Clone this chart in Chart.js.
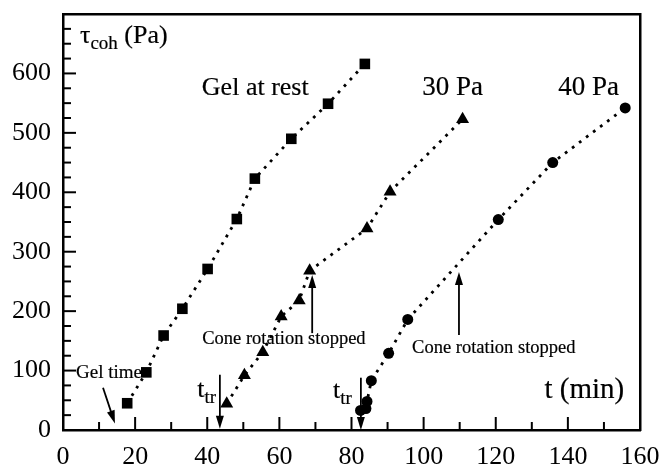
<!DOCTYPE html>
<html>
<head>
<meta charset="utf-8">
<script src="https://cdn.jsdelivr.net/npm/chart.js@4"></script>
<style>
  html, body { margin: 0; padding: 0; background: #fff; }
  #wrap { width: 662px; height: 464px; }
</style>
</head>
<body>
<div id="wrap"><canvas id="chart" width="662" height="464"></canvas></div>
<script>
/* ── Cohesive stress vs time, three gels ── */

// Gel at rest (squares)
const restTime = [17.8, 23.1, 27.9, 33.1, 40.1, 48.2, 53.2, 63.3, 73.5, 83.7];
const restTau  = [45, 97, 159, 204, 271, 355, 423, 490, 549, 616];

// 30 Pa (triangles)
const pa30Time = [45.4, 50.3, 55.4, 60.5, 65.5, 68.4, 84.3, 90.7, 110.8];
const pa30Tau  = [44, 92, 131, 191, 218, 268, 339, 401, 523];

// 40 Pa (circles)
const pa40Time = [82.5, 84.0, 84.3, 85.5, 90.3, 95.6, 120.7, 135.8, 155.9];
const pa40Tau  = [33, 36, 48, 83, 129, 186, 354, 450, 542];

// axis ticks
const xTicks = [0, 20, 40, 60, 80, 100, 120, 140, 160];
const yTicks = [0, 100, 200, 300, 400, 500, 600];

const SERIF = '"Liberation Serif", "DejaVu Serif", serif';

function toPoints(xs, ys) {
  return xs.map((x, i) => ({ x: x, y: ys[i] }));
}

function seriesStyle(shape, radius) {
  return {
    showLine: true,
    borderColor: '#000', borderWidth: 2.8,
    borderDash: [2.8, 6], borderCapStyle: 'butt',
    backgroundColor: '#000',
    pointStyle: shape, pointRadius: radius, pointHoverRadius: radius,
    pointBorderWidth: 0
  };
}

// text labels placed in data units
const labels = [
  { x: 38.5,  y: 564, text: 'Gel at rest', size: 26 },
  { x: 99.6,  y: 564, text: '30 Pa', size: 27 },
  { x: 137.3, y: 564, text: '40 Pa', size: 27 },
  { x: 133.5, y: 54,  text: 't (min)', size: 29 },
  { x: 38.6,  y: 145, text: 'Cone rotation stopped', size: 18.5 },
  { x: 96.8,  y: 130, text: 'Cone rotation stopped', size: 18.5 },
  { x: 3.6,   y: 88,  text: 'Gel time', size: 19 }
];

// arrows: from (x0,y0) to tip (x1,y1)
const arrows = [
  { x0: 11.1, y0: 71,  x1: 14.4, y1: 11 },
  { x0: 43.5, y0: 93,  x1: 43.5, y1: 2 },
  { x0: 82.6, y0: 88,  x1: 82.6, y1: 0 },
  { x0: 69.1, y0: 163, x1: 69.1, y1: 261 },
  { x0: 109.8, y0: 160, x1: 109.8, y1: 266 }
];

// subscripted labels: t_tr and the axis title
const subLabels = [
  { x: 37.2, y: 56, main: 't', sub: 'tr', tail: '', size: 26 },
  { x: 74.9, y: 54, main: 't', sub: 'tr', tail: '', size: 26 },
  { x: 4.7,  y: 651, main: 'τ', sub: 'coh', tail: ' (Pa)', size: 26 }
];

function drawArrow(ctx, x0, y0, x1, y1) {
  const ang = Math.atan2(y1 - y0, x1 - x0);
  const head = 13, half = 4;
  ctx.beginPath();
  ctx.moveTo(x0, y0);
  ctx.lineTo(x1 - Math.cos(ang) * head * 0.8, y1 - Math.sin(ang) * head * 0.8);
  ctx.lineWidth = 1.8;
  ctx.stroke();
  ctx.beginPath();
  ctx.moveTo(x1, y1);
  ctx.lineTo(x1 - Math.cos(ang) * head - Math.sin(ang) * half, y1 - Math.sin(ang) * head + Math.cos(ang) * half);
  ctx.lineTo(x1 - Math.cos(ang) * head + Math.sin(ang) * half, y1 - Math.sin(ang) * head - Math.cos(ang) * half);
  ctx.closePath();
  ctx.fill();
}

// filled text with a thin outline so the glyphs read a little heavier
function inkText(ctx, str, px, py) {
  ctx.fillText(str, px, py);
  ctx.strokeText(str, px, py);
}

// plain axis used only for its border line (top and right sides of the box)
function edgeAxis(position, extra) {
  return Object.assign({
    type: 'linear', position: position, display: true,
    grid: { display: false, drawTicks: false },
    border: { display: true, color: '#000', width: 2.5 },
    ticks: { display: false },
    afterFit: s => {
      if (position === 'top') s.height = 0; else s.width = 0;
      s.paddingLeft = s.paddingRight = s.paddingTop = s.paddingBottom = 0;
    }
  }, extra);
}

// inward ticks and annotations
const framePlugin = {
  id: 'frame',
  afterDraw(chart) {
    const { ctx, scales: { x, y } } = chart;
    const L = x.getPixelForValue(0), B = y.getPixelForValue(0);
    ctx.save();
    ctx.setLineDash([]);
    ctx.strokeStyle = '#000';
    ctx.fillStyle = '#000';

    // x ticks every 10, longer every 20
    ctx.lineWidth = 2;
    for (let v = 10; v < 160; v += 10) {
      const px = x.getPixelForValue(v);
      const len = v % 20 === 0 ? 13 : 8;
      ctx.beginPath();
      ctx.moveTo(px, B);
      ctx.lineTo(px, B - len);
      ctx.stroke();
    }
    // y ticks every 25, longer every 100
    for (let v = 25; v < 700; v += 25) {
      const py = y.getPixelForValue(v);
      const len = v % 100 === 0 ? 13 : 8;
      ctx.beginPath();
      ctx.moveTo(L, py);
      ctx.lineTo(L + len, py);
      ctx.stroke();
    }

    // labels
    ctx.textBaseline = 'alphabetic';
    ctx.textAlign = 'left';
    ctx.lineWidth = 0.2;
    labels.forEach(l => {
      ctx.font = l.size + 'px ' + SERIF;
      inkText(ctx, l.text, x.getPixelForValue(l.x), y.getPixelForValue(l.y));
    });

    subLabels.forEach(l => {
      let px = x.getPixelForValue(l.x);
      const py = y.getPixelForValue(l.y);
      ctx.font = l.size + 'px ' + SERIF;
      inkText(ctx, l.main, px, py);
      px += ctx.measureText(l.main).width;
      ctx.font = Math.round(l.size * 0.72) + 'px ' + SERIF;
      inkText(ctx, l.sub, px, py + 6);
      px += ctx.measureText(l.sub).width;
      ctx.font = l.size + 'px ' + SERIF;
      inkText(ctx, l.tail, px, py);
    });

    arrows.forEach(r => {
      drawArrow(ctx, x.getPixelForValue(r.x0), y.getPixelForValue(r.y0),
                x.getPixelForValue(r.x1), y.getPixelForValue(r.y1));
    });
    ctx.restore();
  }
};

new Chart(document.getElementById('chart'), {
  type: 'scatter',
  data: {
    datasets: [
      { label: 'Gel at rest', data: toPoints(restTime, restTau), ...seriesStyle('rect', 7.5) },
      { label: '30 Pa', data: toPoints(pa30Time, pa30Tau), ...seriesStyle('triangle', 7.5) },
      { label: '40 Pa', data: toPoints(pa40Time, pa40Tau), ...seriesStyle('circle', 5.5) }
    ]
  },
  options: {
    responsive: false,
    animation: false,
    events: [],
    layout: { padding: { top: 14, right: 22, left: 0, bottom: 0 } },
    plugins: { legend: { display: false }, tooltip: { enabled: false } },
    scales: {
      x: {
        type: 'linear', position: 'bottom', min: 0, max: 160,
        afterBuildTicks: s => { s.ticks = xTicks.map(v => ({ value: v })); },
        // fixed height; the edge labels are allowed to overhang the plot
        afterFit: s => { s.height = 34; s.paddingLeft = 0; s.paddingRight = 0; },
        grid: { display: false, drawTicks: false },
        border: { display: true, color: '#000', width: 2.5 },
        ticks: { color: '#000', padding: 12, maxRotation: 0, font: { family: SERIF, size: 26 } }
      },
      y: {
        type: 'linear', position: 'left', min: 0, max: 700,
        afterBuildTicks: s => { s.ticks = yTicks.map(v => ({ value: v })); },
        afterFit: s => { s.width = 63; s.paddingTop = 0; s.paddingBottom = 0; },
        grid: { display: false, drawTicks: false },
        border: { display: true, color: '#000', width: 2.5 },
        ticks: { color: '#000', padding: 12, font: { family: SERIF, size: 26 } }
      },
      xTop: edgeAxis('top', { min: 0, max: 160 }),
      yRight: edgeAxis('right', { min: 0, max: 700 })
    }
  },
  plugins: [framePlugin]
});
</script>
</body>
</html>
